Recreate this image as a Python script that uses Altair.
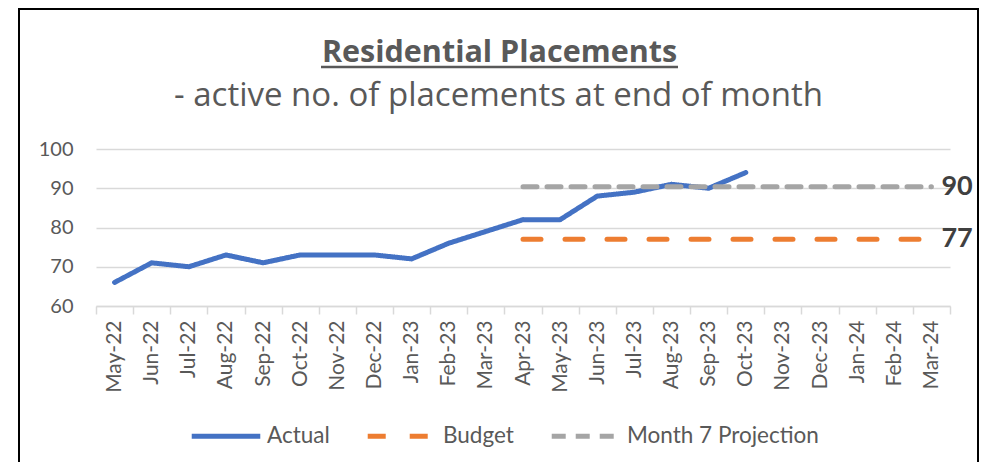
import altair as alt
import pandas as pd

months = ["May-22", "Jun-22", "Jul-22", "Aug-22", "Sep-22", "Oct-22", "Nov-22", "Dec-22",
          "Jan-23", "Feb-23", "Mar-23", "Apr-23", "May-23", "Jun-23", "Jul-23", "Aug-23",
          "Sep-23", "Oct-23", "Nov-23", "Dec-23", "Jan-24", "Feb-24", "Mar-24"]
actual = [66, 71, 70, 73, 71, 73, 73, 73, 72, 76, 79, 82, 82, 88, 89, 91, 90, 94]
budget = [77] * 12
projection = [90.4] * 12
series_names = ["Actual", "Budget", "Month 7 Projection"]
series_colors = ["#4472C4", "#ED7D31", "#A5A5A5"]
y_ticks = [60, 70, 80, 90, 100]
title_text = "Residential Placements"
subtitle_text = "- active no. of placements at end of month"

rows = []
for m, v in zip(months, actual):
    rows.append({"month": m, "value": v, "series": "Actual"})
for m, v in zip(months[11:], budget):
    rows.append({"month": m, "value": v, "series": "Budget"})
for m, v in zip(months[11:], projection):
    rows.append({"month": m, "value": v, "series": "Month 7 Projection"})
df = pd.DataFrame(rows)

FONT = "Lato"
TFONT = "Open Sans"
GREY = "#595959"

x_enc = alt.X("month:N", sort=months, bandPosition=0.5,
              scale=alt.Scale(type="band", domain=months, paddingInner=0, paddingOuter=0),
              axis=alt.Axis(title=None, labelAngle=270, labelFontSize=21, labelColor=GREY,
                            labelFont=FONT, domainColor="#D9D9D9", tickColor="#D9D9D9",
                            domainWidth=1.5, tickWidth=1.5,
                            tickSize=8, tickBand="extent", labelPadding=6, grid=False,
                            labelOverlap=False))
y_enc = alt.Y("value:Q", scale=alt.Scale(domain=[60, 100], nice=False, zero=False),
              axis=alt.Axis(title=None, values=y_ticks, tickCount=5, labelFontSize=20,
                            labelColor=GREY, labelFont=FONT, domain=False, ticks=False,
                            labelPadding=23, labelOverlap=False,
                            gridColor="#D9D9D9", gridWidth=1.5))

lines = alt.Chart(df).mark_line(strokeWidth=5, strokeCap="round", strokeJoin="round").encode(
    x=x_enc,
    y=y_enc,
    color=alt.Color("series:N", scale=alt.Scale(domain=series_names, range=series_colors),
                    legend=alt.Legend(title=None, orient="none", direction="horizontal",
                                      legendX=93, legendY=250, symbolType="stroke",
                                      symbolSize=4700, symbolStrokeWidth=5,
                                      labelFontSize=22.5, labelColor=GREY, labelFont=FONT,
                                      columnPadding=27, labelOffset=4, labelLimit=0)),
    strokeDash=alt.StrokeDash("series:N", scale=alt.Scale(domain=series_names,
                              range=[[1, 0], [18, 24], [14, 10]]), legend=None),
)

labels = alt.Chart(df).transform_filter(
    (alt.datum.month == months[-1]) & (alt.datum.series != "Actual")
).mark_text(align="left", baseline="middle", dx=10, fontSize=27, fontWeight="bold",
            color="#404040", font=FONT).encode(
    x=alt.X("month:N", sort=months, bandPosition=0.5),
    y="value:Q",
    text=alt.Text("value:Q", format=".0f"),
)

one = pd.DataFrame({"k": [0]})
frame = alt.Chart(one).mark_rect(filled=False, stroke="black", strokeWidth=2, clip=False).encode(
    x=alt.value(-77), x2=alt.value(882), y=alt.value(-140), y2=alt.value(420)
)
title = alt.Chart(one).mark_text(align="center", baseline="alphabetic", fontSize=30.5,
                                 fontWeight="bold", color=GREY, font=TFONT).encode(
    x=alt.value(403.5), y=alt.value(-87), text=alt.value(title_text)
)
subtitle = alt.Chart(one).mark_text(align="center", baseline="alphabetic", fontSize=33,
                                    color=GREY, font=TFONT).encode(
    x=alt.value(402.5), y=alt.value(-43), text=alt.value(subtitle_text)
)
underline = alt.Chart(one).mark_rule(color=GREY, strokeWidth=2.5).encode(
    x=alt.value(225), x2=alt.value(582), y=alt.value(-82)
)

chart = alt.layer(frame, lines, labels, title, subtitle, underline).properties(
    width=854, height=157,
    autosize=alt.AutoSizeParams(type="none"),
    padding={"left": 88, "top": 141, "right": 29, "bottom": 156},
).configure_view(stroke=None)

chart.save("out.html", embed_options={"renderer": "svg", "actions": False})
